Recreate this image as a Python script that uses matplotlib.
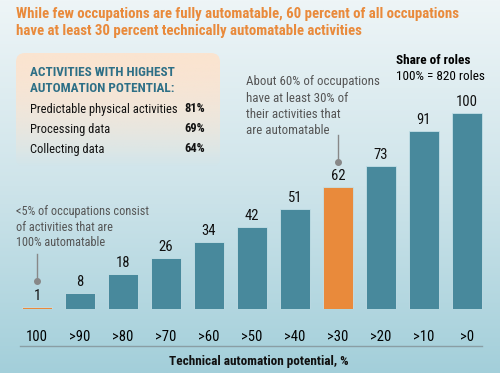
import matplotlib.pyplot as plt
from matplotlib.patches import FancyBboxPatch
import numpy as np

# Data
categories = ["100", ">90", ">80", ">70", ">60", ">50", ">40", ">30", ">20", ">10", ">0"]
share = [1, 8, 18, 26, 34, 42, 51, 62, 73, 91, 100]
highlight = [0, 7]

activities = ["Predictable physical activities", "Processing data", "Collecting data"]
activity_pct = ["81%", "69%", "64%"]

title_lines = ["While few occupations are fully automatable, 60 percent of all occupations",
               "have at least 30 percent technically automatable activities"]

W, H = 500, 373
narrow = ["Roboto Condensed", "DejaVu Sans"]
orange = "#e98a3b"
teal = "#48899c"
grey = "#555555"

fig = plt.figure(figsize=(W / 100, H / 100), dpi=100)

# background, drawn in pixel coordinates (y down)
bg = fig.add_axes([0, 0, 1, 1])
bg.set_xlim(0, W)
bg.set_ylim(H, 0)
bg.axis("off")
top_c = np.array([238, 245, 247]) / 255
mid_c = np.array([206, 228, 234]) / 255
bot_c = np.array([163, 207, 218]) / 255
t = np.linspace(0, 1, 256)[:, None]
grad = np.where(t < 0.5, top_c + (mid_c - top_c) * (t / 0.5), mid_c + (bot_c - mid_c) * ((t - 0.5) / 0.5))
bg.imshow(grad[:, None, :].repeat(2, axis=1), extent=(0, W, H, 0), aspect="auto", zorder=0)

# peach box fading downwards
box = FancyBboxPatch((16, 53), 204, 114, boxstyle="round,pad=0,rounding_size=9",
                     facecolor="none", edgecolor="none", zorder=1)
bg.add_patch(box)
peach = np.zeros((100, 2, 4))
peach[:, :, :3] = np.array([251, 228, 208]) / 255
peach[:, :, 3] = 1 - np.linspace(0, 1, 100)[:, None] ** 1.6
img = bg.imshow(peach, extent=(16, 220, 167, 53), aspect="auto", zorder=1)
img.set_clip_path(box)

# title
for i, line in enumerate(title_lines):
    bg.text(16, 14 + i * 17, line, color=orange, fontsize=10.7, fontweight="bold",
            family=narrow, va="center", ha="left")

# box content
bg.text(30, 72, "ACTIVITIES WITH HIGHEST", color="#2d6f86", fontsize=9.5,
        fontweight="bold", family=narrow, va="center")
bg.text(30, 88, "AUTOMATION POTENTIAL:", color="#2d6f86", fontsize=9.5,
        fontweight="bold", family=narrow, va="center")
for i, (a, p) in enumerate(zip(activities, activity_pct)):
    y = 109 + i * 20
    bg.text(30, y, a, fontsize=9, family=narrow, va="center", color="#111111")
    bg.text(205, y, p, fontsize=9, family=narrow, va="center", ha="right",
            fontweight="bold", color="#111111")

# share of roles
bg.text(396, 60, "Share of roles", fontsize=9.5, fontweight="bold", family=narrow, va="center")
bg.text(396, 76, "100% = 820 roles", fontsize=9.5, family=narrow, va="center")

# annotations
ann1 = ["About 60% of occupations", "have at least 30% of", "their activities that", "are automatable"]
for i, s in enumerate(ann1):
    bg.text(246, 82 + i * 16, s, fontsize=9.3, family=narrow, va="center", color=grey)
ann2 = ["<5% of occupations consist", "of activities that are", "100% automatable"]
for i, s in enumerate(ann2):
    bg.text(16, 212 + i * 15.5, s, fontsize=8.8, family=narrow, va="center", color=grey)

# bars
bar_ax = fig.add_axes([15 / W, 64 / H, 474 / W, 269 / H])
bar_ax.patch.set_alpha(0)
x = np.arange(len(categories))
colors = [orange if i in highlight else teal for i in range(len(categories))]
bar_ax.bar(x, share, width=0.72, color=colors, edgecolor="#c4e0e7", linewidth=0.6, zorder=2)
for xi, v in zip(x, share):
    bar_ax.annotate(str(v), (xi, v), xytext=(0, 11), textcoords="offset pixels",
                    ha="center", va="center", fontsize=10.5, family=narrow, color="#111111")
bar_ax.set_xlim(-22 / 43, 10 + 22 / 43)
bar_ax.set_ylim(0, 269 / 1.96)
bar_ax.set_xticks(x, categories, fontsize=10.5, family=narrow)
bar_ax.tick_params(axis="x", length=0, pad=15)
bar_ax.set_yticks([])
for s in bar_ax.spines.values():
    s.set_visible(False)

# leader lines with dots
for xi, y0, y1 in [(0, 254, 281), (7, 135, 162)]:
    px = 37 + xi * 43
    bg.plot([px, px], [y0, y1], color="#888888", lw=1, zorder=3)
    bg.plot(px, y1, "o", color="#888888", ms=4, zorder=3)

# axis line and label
bg.plot([20, 482], [346, 346], color="#8a9ea4", lw=1, zorder=3)
bg.text(259, 362, "Technical automation potential, %", fontsize=9.5, fontweight="bold",
        family=narrow, ha="center", va="center", color="#111111")

fig.savefig("out.png", dpi=100)
